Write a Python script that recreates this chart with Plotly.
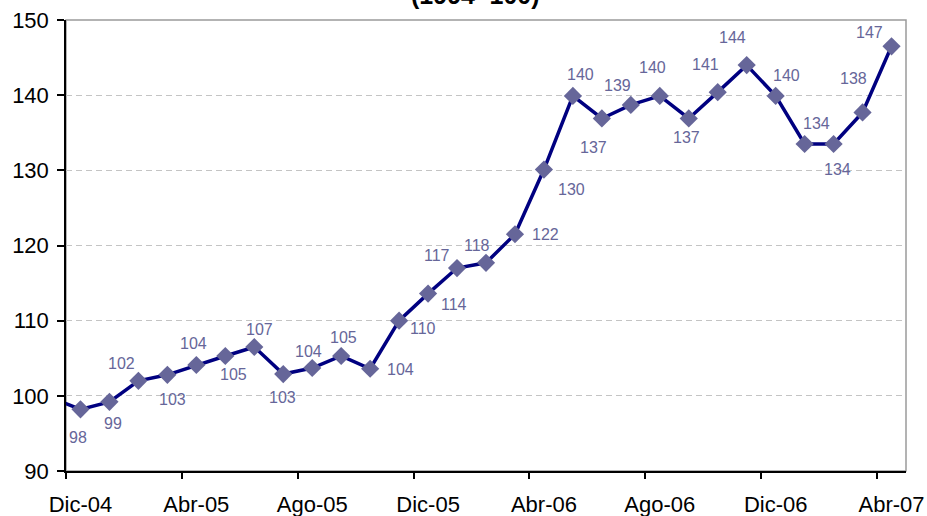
import plotly.graph_objects as go

# Monthly index (1994=100), Nov-04 .. Abr-07 (Nov-04 only partly visible at left edge)
months = ["Nov-04", "Dic-04", "Ene-05", "Feb-05", "Mar-05", "Abr-05", "May-05", "Jun-05", "Jul-05",
          "Ago-05", "Sep-05", "Oct-05", "Nov-05", "Dic-05", "Ene-06", "Feb-06", "Mar-06",
          "Abr-06", "May-06", "Jun-06", "Jul-06", "Ago-06", "Sep-06", "Oct-06", "Nov-06",
          "Dic-06", "Ene-07", "Feb-07", "Mar-07", "Abr-07"]
values = [99.7, 98.2, 99.2, 102.0, 102.8, 104.1, 105.3, 106.5, 102.9, 103.7, 105.3, 103.6,
          110.0, 113.6, 117.0, 117.7, 121.5, 130.1, 139.9, 136.9, 138.7, 139.9, 136.9,
          140.4, 144.0, 139.9, 133.5, 133.5, 137.7, 146.5]
labels = ["", "98", "99", "102", "103", "104", "105", "107", "103", "104", "105", "104",
          "110", "114", "117", "118", "122", "130", "140", "137", "139", "140", "137",
          "141", "144", "140", "134", "134", "138", "147"]
tick_labels = ["Dic-04", "Abr-05", "Ago-05", "Dic-05", "Abr-06", "Ago-06", "Dic-06", "Abr-07"]

# styling: label offset (px, right / down) from each marker
label_dx = [0, -2, 4, -17, 5, -3, 8, 5, -1, -4, 2, 30, 24, 26, -20, -9, 31, 28, 8, -8,
            -13, -7, -2, -12, -14, 11, 12, 4, -9, -22]
label_dy = [0, 28, 22, -17, 25, -22, 18, -17, 23, -17, -19, 1, 8, 11, -13, -17, 0, 20, -21, 29,
            -19, -28, 19, -28, -28, -20, -21, 25, -34, -14]

x = [i - 1 for i in range(len(values))]
label_idx = [months.index(t) - 1 for t in tick_labels]      # labels centred on the month
tick_idx = [i - 0.5 for i in label_idx]                     # tick marks between months

fig = go.Figure()
fig.add_trace(go.Scatter(
    x=x, y=values, mode="lines+markers",
    line=dict(color="#000080", width=3.5),
    marker=dict(symbol="diamond", size=14, color="#666699", line=dict(width=0)),
    showlegend=False, hoverinfo="skip",
))

for xi, yi, t, dx, dy in zip(x, values, labels, label_dx, label_dy):
    if t:
        fig.add_annotation(x=xi, y=yi, text=t, showarrow=False, xshift=dx, yshift=-dy,
                           xanchor="center", yanchor="middle",
                           font=dict(family="Liberation Sans, Arial", size=16, color="#666699"))

fig.add_shape(type="rect", xref="paper", yref="paper", x0=0, y0=0, x1=1, y1=1,
              line=dict(color="#9a9a9a", width=1.5), layer="below")

fig.add_annotation(text="<b>(1994=100)</b>", xref="paper", yref="paper",
                   x=0.488, y=1 + (20 - (-5)) / 451, xanchor="center", yanchor="middle",
                   showarrow=False,
                   font=dict(family="Liberation Sans, Arial", size=25, color="black"))

fig.update_layout(
    width=927, height=516,
    margin=dict(l=66, r=21, t=20, b=45),
    paper_bgcolor="white", plot_bgcolor="white",
    font=dict(family="Liberation Sans, Arial", size=22, color="black"),
    xaxis=dict(range=[-0.5, 28.5], tickmode="array", tickvals=label_idx, ticktext=tick_labels,
               automargin=False,
               showgrid=False, zeroline=False, showline=True, linecolor="black", linewidth=1.5,
               ticks="", ticklabelstandoff=13,
               minor=dict(tickmode="array", tickvals=tick_idx, ticks="outside", ticklen=6,
                          tickcolor="black", tickwidth=1.5, showgrid=False),
               tickfont=dict(size=22, color="black")),
    yaxis=dict(range=[90, 150], tickmode="array", tickvals=[90, 100, 110, 120, 130, 140, 150],
               automargin=False,
               showgrid=True, gridcolor="#c4c4c4", griddash="6px,4px", gridwidth=1,
               zeroline=False, showline=True, linecolor="black", linewidth=1.5,
               ticks="outside", ticklen=7, tickcolor="black", tickwidth=1.5,
               ticklabelstandoff=4,
               tickfont=dict(size=22, color="black")),
)

fig.write_html("out.html", post_script="document.body.style.margin='0';",
               config={"displayModeBar": False})
